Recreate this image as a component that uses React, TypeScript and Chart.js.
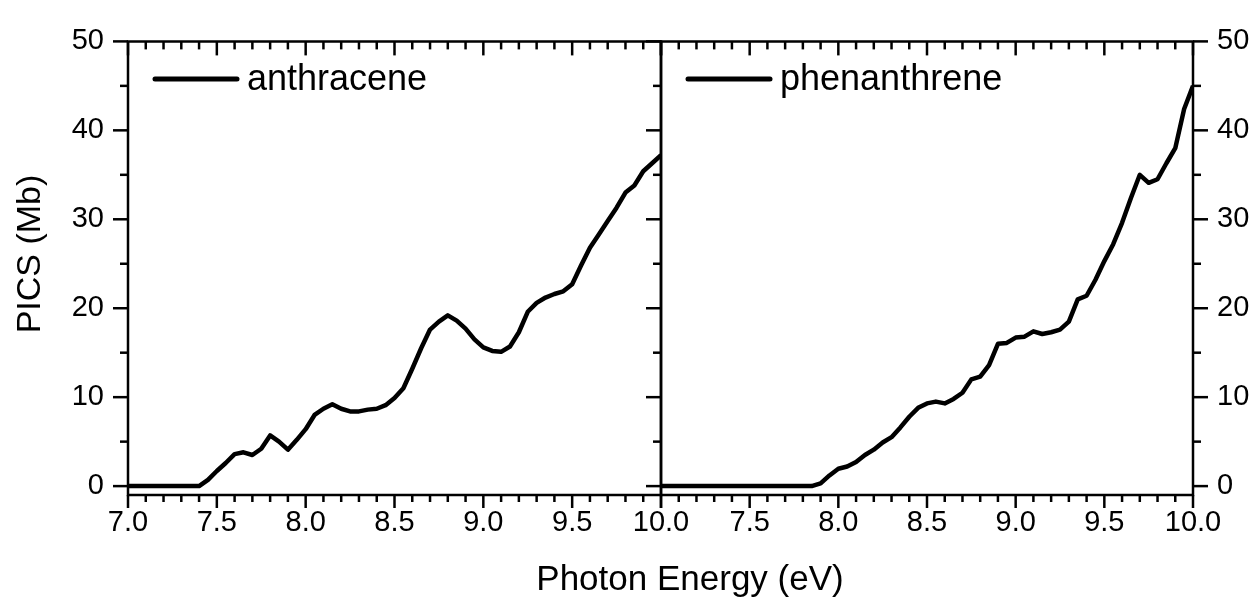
import React, { useEffect, useRef } from 'react';
import { Chart, registerables } from 'chart.js';
Chart.register(...registerables);

const energies = [
  7.0, 7.05, 7.1, 7.15, 7.2, 7.25, 7.3, 7.35, 7.4, 7.45,
  7.5, 7.55, 7.6, 7.65, 7.7, 7.75, 7.8, 7.85, 7.9, 7.95,
  8.0, 8.05, 8.1, 8.15, 8.2, 8.25, 8.3, 8.35, 8.4, 8.45,
  8.5, 8.55, 8.6, 8.65, 8.7, 8.75, 8.8, 8.85, 8.9, 8.95,
  9.0, 9.05, 9.1, 9.15, 9.2, 9.25, 9.3, 9.35, 9.4, 9.45,
  9.5, 9.55, 9.6, 9.65, 9.7, 9.75, 9.8, 9.85, 9.9, 9.95, 10.0,
];

const anthracene = [
  0, 0, 0, 0, 0, 0, 0, 0, 0, 0.7,
  1.7, 2.6, 3.6, 3.8, 3.5, 4.2, 5.7, 5.0, 4.1, 5.2,
  6.4, 8.0, 8.7, 9.2, 8.7, 8.4, 8.4, 8.6, 8.7, 9.1,
  9.9, 11.0, 13.2, 15.5, 17.6, 18.5, 19.2, 18.6, 17.7, 16.5,
  15.6, 15.2, 15.1, 15.7, 17.3, 19.6, 20.6, 21.2, 21.6, 21.9,
  22.7, 24.8, 26.8, 28.3, 29.8, 31.3, 33.0, 33.8, 35.4, 36.3, 37.2,
];

const phenanthrene = [
  0, 0, 0, 0, 0, 0, 0, 0, 0, 0,
  0, 0, 0, 0, 0, 0, 0, 0, 0.3, 1.2,
  1.95, 2.2, 2.7, 3.5, 4.1, 4.9, 5.5, 6.6, 7.8, 8.8,
  9.3, 9.5, 9.3, 9.8, 10.5, 12.0, 12.3, 13.6, 16.0, 16.1,
  16.7, 16.8, 17.4, 17.1, 17.3, 17.6, 18.5, 21.0, 21.4, 23.2,
  25.3, 27.2, 29.6, 32.4, 35.0, 34.1, 34.5, 36.3, 38.0, 42.4, 45.0,
];

const xTickLabels = [7.0, 7.5, 8.0, 8.5, 9.0, 9.5, 10.0];
const yTickLabels = [0, 10, 20, 30, 40, 50];
const X_MIN = 7.0;
const X_MAX = 10.0;
const Y_MIN = -1;
const Y_MAX = 50;
const X_TITLE = 'Photon Energy (eV)';
const Y_TITLE = 'PICS (Mb)';

const FONT = '"Liberation Sans", Arial, sans-serif';
const W = 1257;
const H = 601;
const PLOT_TOP = 30;
const PLOT_BOTTOM = 495;
const SPLIT = 661;
const RIGHT_EDGE = 1193;
const LEFT_EDGE = 128;

type Side = 'out' | 'in' | 'none';

function framePlugin(leftTicks: Side, rightTicks: Side, drawTitles: boolean) {
  return {
    id: 'frameTicks',
    afterDraw(chart: any) {
      const { ctx, chartArea: a, scales } = chart;
      const xs = scales.x;
      const ys = scales.y;
      ctx.save();
      ctx.strokeStyle = '#000';
      ctx.lineWidth = 2.5;
      ctx.lineCap = 'butt';
      ctx.beginPath();
      ctx.rect(a.left, a.top, a.right - a.left, a.bottom - a.top);
      ctx.stroke();
      const line = (x1: number, y1: number, x2: number, y2: number) => {
        ctx.beginPath();
        ctx.moveTo(x1, y1);
        ctx.lineTo(x2, y2);
        ctx.stroke();
      };
      // x ticks every 0.1, major every 0.5
      for (let i = 0; i <= 30; i++) {
        const v = X_MIN + i * 0.1;
        const major = i % 5 === 0;
        const px = xs.getPixelForValue(v);
        const len = major ? 13 : 7;
        line(px, a.bottom, px, a.bottom + len);
        line(px, a.top, px, a.top + len + 1);
      }
      // y ticks every 5, major every 10
      for (let v = 0; v <= 50; v += 5) {
        const major = v % 10 === 0;
        const py = ys.getPixelForValue(v);
        const len = major ? 15 : 8;
        if (leftTicks === 'out') line(a.left - len, py, a.left, py);
        if (leftTicks === 'in') line(a.left, py, a.left + len, py);
        if (rightTicks === 'out') line(a.right, py, a.right + len, py);
        if (rightTicks === 'in') line(a.right - len, py, a.right, py);
      }
      // legend
      const ds = chart.data.datasets[0];
      const lx = a.left + 27;
      const ly = 79;
      ctx.lineWidth = 5;
      ctx.lineCap = 'round';
      line(lx, ly, lx + 82, ly);
      ctx.fillStyle = '#000';
      ctx.font = `36px ${FONT}`;
      ctx.textAlign = 'left';
      ctx.textBaseline = 'middle';
      ctx.fillText(ds.label, lx + 92, ly + 1);
      if (drawTitles) {
        ctx.textAlign = 'center';
        ctx.font = `35px ${FONT}`;
        ctx.fillText(X_TITLE, 690, 580);
        ctx.save();
        ctx.translate(31, 254);
        ctx.rotate(-Math.PI / 2);
        ctx.font = `34px ${FONT}`;
        ctx.fillText(Y_TITLE, 0, 0);
        ctx.restore();
      }
      ctx.restore();
    },
  };
}

function makeConfig(label: string, values: number[], panel: 'left' | 'right') {
  const isLeft = panel === 'left';
  return {
    type: 'line' as const,
    data: {
      datasets: [
        {
          label,
          data: energies.map((e, i) => ({ x: e, y: values[i] })),
          borderColor: '#000',
          borderWidth: 4.5,
          pointRadius: 0,
          tension: 0,
          fill: false,
          borderJoinStyle: 'round' as const,
        },
      ],
    },
    options: {
      responsive: false,
      animation: false as const,
      events: [],
      layout: {
        padding: isLeft
          ? { left: 0, right: W - SPLIT, top: PLOT_TOP, bottom: 0 }
          : { left: SPLIT, right: 0, top: PLOT_TOP, bottom: 0 },
      },
      plugins: {
        legend: { display: false },
        tooltip: { enabled: false },
        title: { display: false },
      },
      scales: {
        x: {
          type: 'linear' as const,
          min: X_MIN,
          max: X_MAX,
          position: 'bottom' as const,
          grid: { display: false, drawTicks: false },
          border: { display: false },
          afterBuildTicks: (scale: any) => {
            scale.ticks = xTickLabels
              .filter((v) => isLeft || v !== X_MIN)
              .map((v) => ({ value: v }));
          },
          afterFit: (scale: any) => {
            scale.height = H - PLOT_BOTTOM;
          },
          ticks: {
            padding: 11,
            color: '#000',
            font: { family: FONT, size: 29 },
            maxRotation: 0,
            autoSkip: false,
            callback: (v: any) => Number(v).toFixed(1),
          },
        },
        y: {
          type: 'linear' as const,
          min: Y_MIN,
          max: Y_MAX,
          position: isLeft ? ('left' as const) : ('right' as const),
          grid: { display: false, drawTicks: false },
          border: { display: false },
          afterBuildTicks: (scale: any) => {
            scale.ticks = yTickLabels.map((v) => ({ value: v }));
          },
          afterFit: (scale: any) => {
            scale.width = isLeft ? LEFT_EDGE : W - RIGHT_EDGE;
          },
          ticks: {
            padding: 24,
            color: '#000',
            font: { family: FONT, size: 29 },
            autoSkip: false,
            callback: (v: any) => String(v),
          },
        },
      },
    },
    plugins: [framePlugin(isLeft ? 'out' : 'none', isLeft ? 'in' : 'out', isLeft)],
  };
}

export default function App() {
  const leftRef = useRef<HTMLCanvasElement | null>(null);
  const rightRef = useRef<HTMLCanvasElement | null>(null);

  useEffect(() => {
    const c1 = new Chart(leftRef.current as HTMLCanvasElement, makeConfig('anthracene', anthracene, 'left') as any);
    const c2 = new Chart(rightRef.current as HTMLCanvasElement, makeConfig('phenanthrene', phenanthrene, 'right') as any);
    return () => {
      c1.destroy();
      c2.destroy();
    };
  }, []);

  const canvasStyle: React.CSSProperties = {
    position: 'absolute',
    left: 0,
    top: 0,
    width: W,
    height: H,
  };

  return (
    <div style={{ position: 'absolute', left: 0, top: 0, width: W, height: H, background: '#fff' }}>
      <canvas ref={leftRef} width={W} height={H} style={canvasStyle} />
      <canvas ref={rightRef} width={W} height={H} style={canvasStyle} />
    </div>
  );
}
